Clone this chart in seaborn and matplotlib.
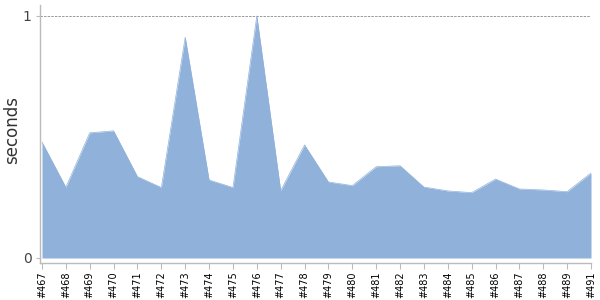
import matplotlib
matplotlib.use("Agg")
import matplotlib.pyplot as plt
import seaborn as sns
import pandas as pd
import numpy as np

builds = ["#467", "#468", "#469", "#470", "#471", "#472", "#473", "#474", "#475", "#476",
          "#477", "#478", "#479", "#480", "#481", "#482", "#483", "#484", "#485", "#486",
          "#487", "#488", "#489", "#491"]
seconds = [0.479, 0.292, 0.517, 0.525, 0.336, 0.291, 0.912, 0.322, 0.291, 1.0,
           0.278, 0.467, 0.314, 0.299, 0.377, 0.381, 0.293, 0.277, 0.270, 0.326,
           0.285, 0.281, 0.274, 0.351]

df = pd.DataFrame({"build": builds, "seconds": seconds})
df["pos"] = np.arange(len(builds))

sns.set_style("white")
fig = plt.figure(figsize=(6, 3), dpi=100)
ax = fig.add_axes([40/600, 1-263/300, (591-40)/600, (263-5)/300])

fill = "#8fb1da"
sns.lineplot(data=df, x="pos", y="seconds", ax=ax, color=fill, linewidth=0.5)
ax.fill_between(df["pos"], 0, df["seconds"], color=fill, linewidth=0)

ax.axhline(1, color="#999999", linestyle=(0, (2.5, 1.2)), linewidth=0.7, zorder=0)

ax.set_xlim(-0.084, len(builds) - 1)
ax.set_ylim(-0.0207, 1.045)
ax.set_xticks(df["pos"])
ax.set_xticklabels(builds, rotation=90, fontsize=7, color="black")
ax.set_yticks([0, 1])
ax.set_yticklabels(["0", "1"], fontsize=10, color="#444444")
ax.set_xlabel("")
ax.set_ylabel("seconds", fontsize=12, color="#333333")
ax.yaxis.set_label_coords(-0.034, 0.515)

for s in ["top", "right"]:
    ax.spines[s].set_visible(False)
for s in ["left", "bottom"]:
    ax.spines[s].set_color("#bbbbbb")
    ax.spines[s].set_linewidth(1)
ax.tick_params(axis="x", length=4, width=0.8, color="#bbbbbb", pad=2, direction="out", bottom=True)
ax.tick_params(axis="y", length=3, width=0.8, color="#bbbbbb", pad=3, direction="out", left=True)

fig.savefig("out.png", dpi=100)
